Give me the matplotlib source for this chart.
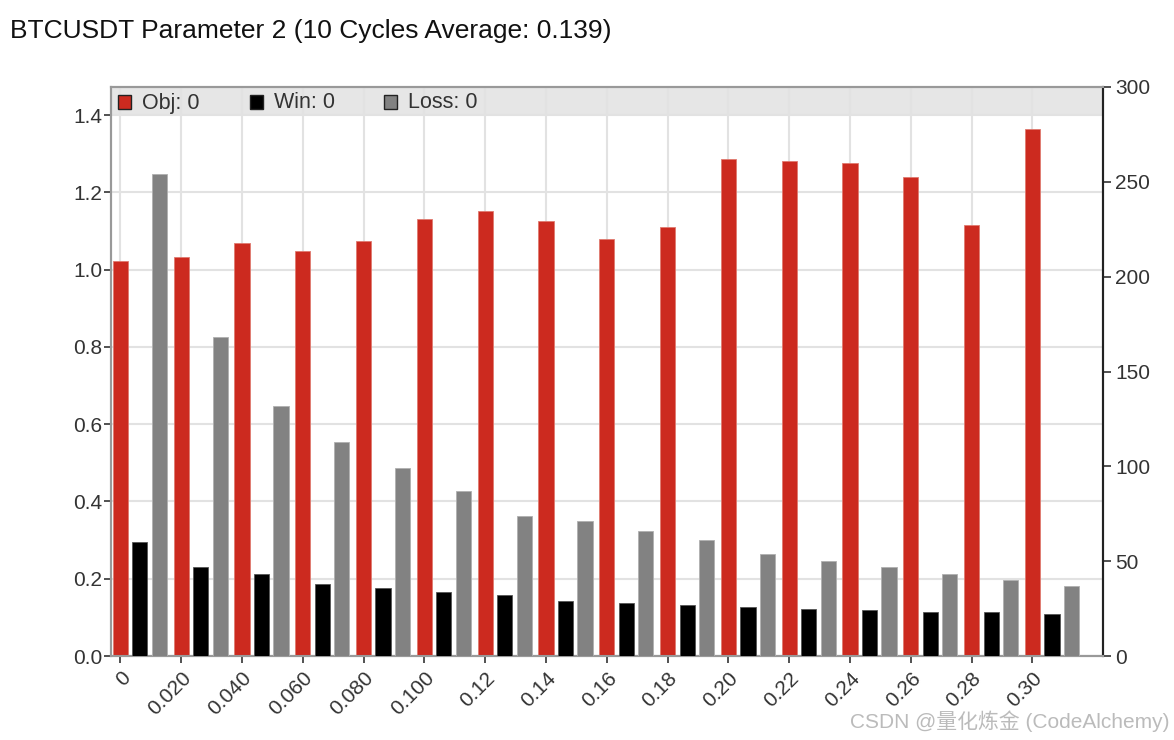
import matplotlib
matplotlib.use("Agg")
import matplotlib.pyplot as plt
from matplotlib.patches import Rectangle
import numpy as np

plt.rcParams['font.family'] = ['Liberation Sans', 'Noto Sans CJK SC', 'DejaVu Sans']

categories = ["0", "0.020", "0.040", "0.060", "0.080", "0.100", "0.12", "0.14",
              "0.16", "0.18", "0.20", "0.22", "0.24", "0.26", "0.28", "0.30"]
obj = [1.022, 1.032, 1.069, 1.048, 1.074, 1.131, 1.151, 1.125,
       1.079, 1.110, 1.286, 1.281, 1.276, 1.239, 1.115, 1.363]
win = [60, 47, 43, 38, 36, 34, 32, 29, 28, 27, 26, 25, 24, 23, 23, 22]
loss = [254, 168, 132, 113, 99, 87, 74, 71, 66, 61, 54, 50, 47, 43, 40, 37]
left_ticks = [0.0, 0.2, 0.4, 0.6, 0.8, 1.0, 1.2, 1.4]
right_ticks = [0, 50, 100, 150, 200, 250, 300]

RED = '#CC2A1F'
BLACK = '#000000'
GRAY = '#828282'
TXT = '#333333'

W, H = 1174, 740
fig = plt.figure(figsize=(W / 100, H / 100), dpi=100)
L, R, T, B = 110.7, 1103, 87, 656
ax = fig.add_axes([L / W, 1 - B / H, (R - L) / W, (B - T) / H])
ax2 = ax.twinx()

x = np.arange(len(categories))
bw = 0.25
ax.bar(x, obj, width=bw, color=RED, edgecolor='#e07a70', linewidth=0.6, zorder=3)
ax2.bar(x + 0.32, win, width=bw, color=BLACK, edgecolor='#555555', linewidth=0.6, zorder=3)
ax2.bar(x + 0.64, loss, width=bw, color=GRAY, edgecolor='#b0b0b0', linewidth=0.6, zorder=3)

ax.set_xlim(-0.16, 16.16)
ax.set_ylim(0, 1.4725)
ax2.set_ylim(0, 300)

ax.set_axisbelow(True)
ax.set_yticks(left_ticks)
ax.set_yticklabels([f"{v:.1f}" for v in left_ticks])
ax.set_xticks(x)
ax.set_xticklabels(categories, rotation=45, ha='right', va='top', rotation_mode='anchor')
ax2.set_yticks(right_ticks)
ax2.set_yticklabels([str(v) for v in right_ticks])

ax.grid(True, color='#e2e2e2', linewidth=1.5, zorder=0.5)

# legend band
band_h = 29 / (B - T)
ax.add_patch(Rectangle((0, 1 - band_h), 1, band_h, transform=ax.transAxes,
                       facecolor='#e6e6e6', edgecolor='none', zorder=0.2))

for a in (ax, ax2):
    for s in ('left', 'bottom', 'top'):
        a.spines[s].set_color('#999999')
        a.spines[s].set_linewidth(1.5)
    a.spines['right'].set_color('#222222')
    a.spines['right'].set_linewidth(1.5)

ax.tick_params(axis='both', length=5, width=1.2, color='#333333', labelsize=15,
               labelcolor=TXT, pad=1)
ax.tick_params(axis='x', pad=4)
ax2.tick_params(axis='y', length=6, width=1.2, color='#333333', labelsize=15,
                labelcolor=TXT, pad=3)

# legend entries
def px2ax(px):
    return (px - L) / (R - L)

ly = 1 - (103 - T) / (B - T)
sq = 13
entries = [(118, RED, "Obj: 0"), (250, BLACK, "Win: 0"), (384, GRAY, "Loss: 0")]
for px, col, lab in entries:
    ax.add_patch(Rectangle((px2ax(px), 1 - (102 - T + sq / 2) / (B - T)), sq / (R - L), sq / (B - T),
                           transform=ax.transAxes, facecolor=col, edgecolor='#222222',
                           linewidth=1.0, zorder=4, clip_on=False))
    ax.text(px2ax(px + sq + 11), ly, lab, transform=ax.transAxes, fontsize=15.5,
            color=TXT, va='center', ha='left', zorder=4)

fig.text(10 / W, 1 - 31 / H, "BTCUSDT Parameter 2 (10 Cycles Average: 0.139)",
         fontsize=19, color='#111111', va='center', ha='left')
fig.text(1170 / W, 1 - 721 / H, "CSDN @量化炼金 (CodeAlchemy)",
         fontsize=15, color='#bbbbbb', va='center', ha='right')

fig.savefig("out.png", dpi=100)
